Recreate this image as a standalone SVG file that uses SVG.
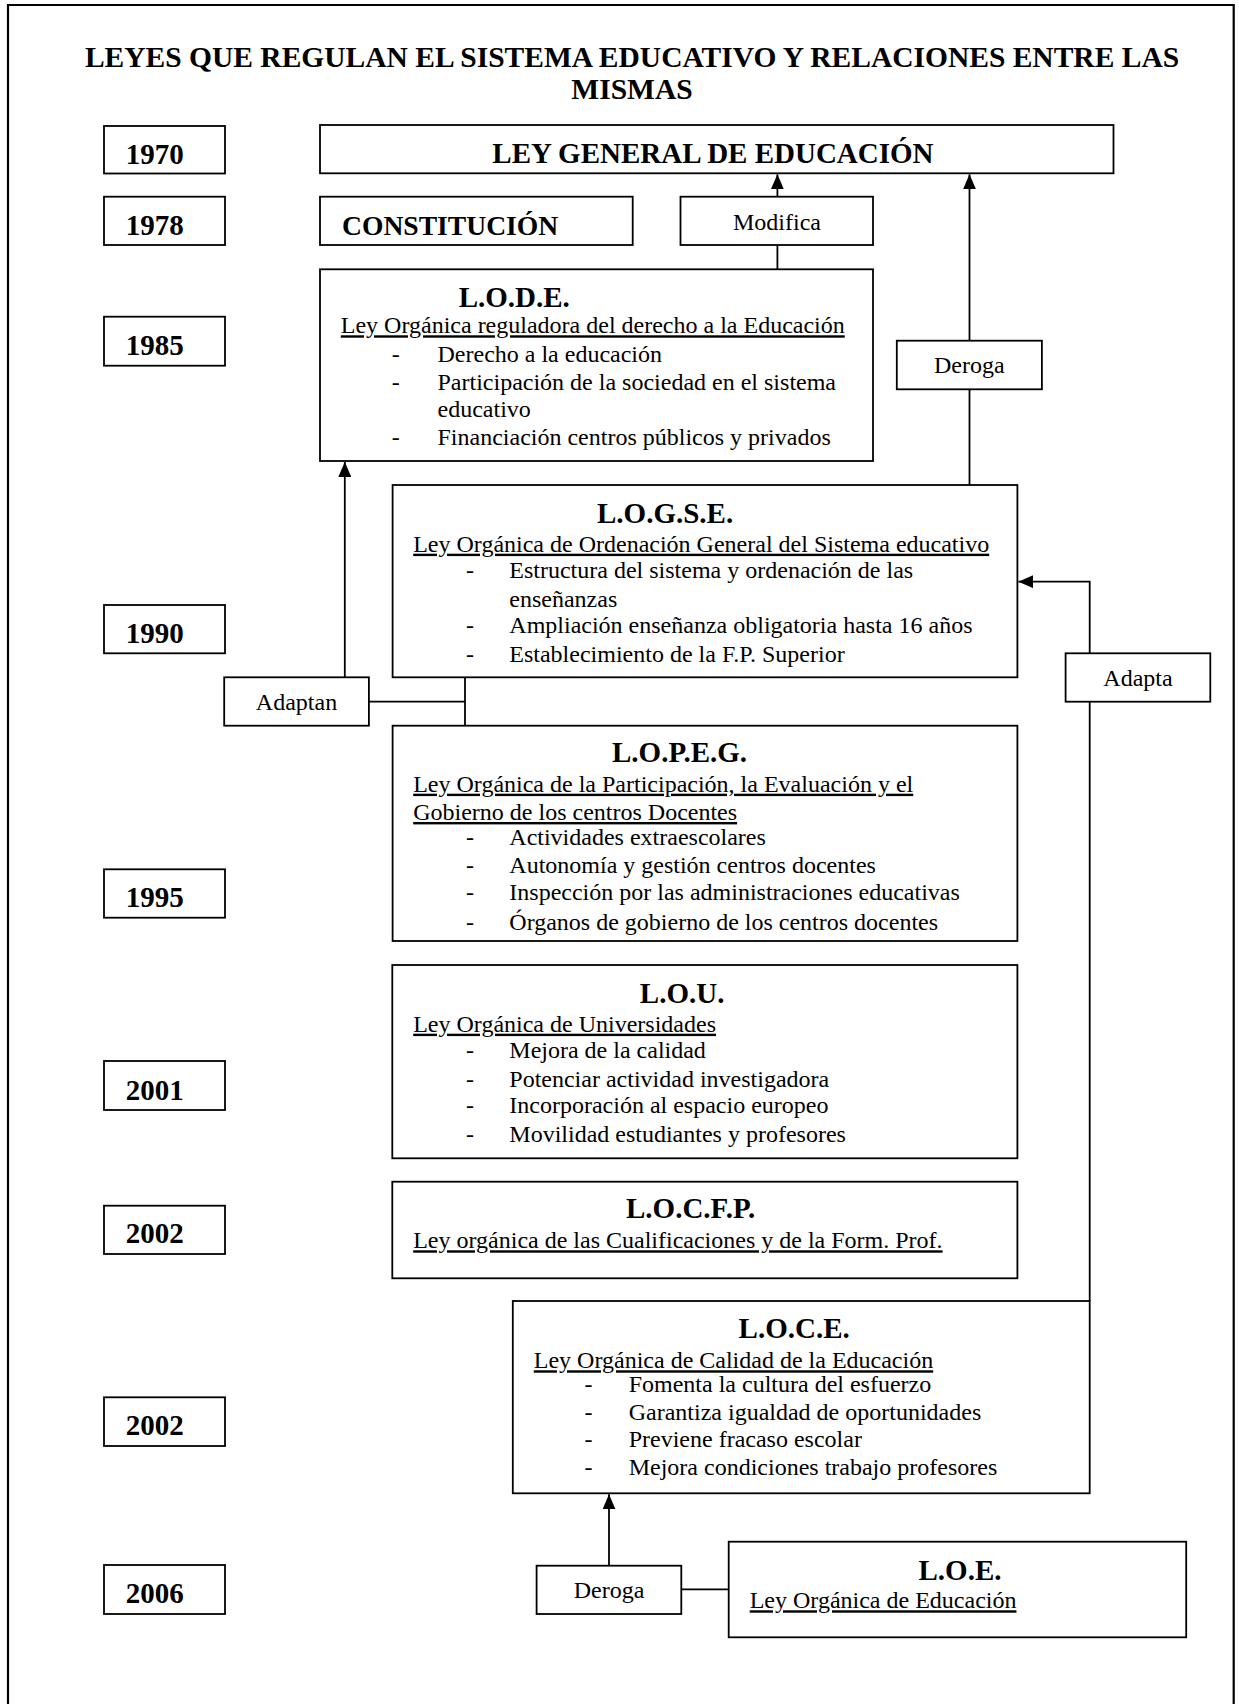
<svg xmlns="http://www.w3.org/2000/svg" width="1239" height="1704" viewBox="0 0 1239 1704">
<defs>
<marker id="arr" markerUnits="userSpaceOnUse" markerWidth="16" markerHeight="13" refX="15" refY="6.5" orient="auto">
<path d="M0,0 L15,6.5 L0,13 z" fill="#000"/>
</marker>
<clipPath id="clipLopeg"><rect x="392" y="725" width="626" height="214"/></clipPath>
<style>
.box{fill:#fff;stroke:#000;stroke-width:1.8}
.con{fill:none;stroke:#000;stroke-width:1.8}
.b{font-family:"Liberation Serif","Times New Roman",serif;font-weight:bold;font-size:29px;fill:#000}
.r{font-family:"Liberation Serif","Times New Roman",serif;font-size:24px;fill:#000}
.u{text-decoration:underline}
.m{text-anchor:middle}
</style>
</defs>
<rect width="1239" height="1704" fill="#fff"/>
<path d="M8,1710 V5 H1233.7 V1710" fill="none" stroke="#000" stroke-width="2.2"/>

<g id="title">
<text class="b m" x="632" y="67" style="font-size:29.5px">LEYES QUE REGULAN EL SISTEMA EDUCATIVO Y RELACIONES ENTRE LAS</text>
<text class="b m" x="632" y="99" style="font-size:29.5px">MISMAS</text>
</g>

<g id="y1970"><rect class="box" x="104" y="126" width="121" height="47.5"/><text class="b" x="125.7" y="163.5">1970</text></g>
<g id="y1978"><rect class="box" x="104" y="196.7" width="121" height="48.3"/><text class="b" x="125.7" y="234.5">1978</text></g>
<g id="y1985"><rect class="box" x="104" y="316.7" width="121" height="49"/><text class="b" x="125.7" y="355">1985</text></g>
<g id="y1990"><rect class="box" x="104" y="605" width="121" height="48.3"/><text class="b" x="125.7" y="643">1990</text></g>
<g id="y1995"><rect class="box" x="104" y="869.3" width="121" height="48.4"/><text class="b" x="125.7" y="907">1995</text></g>
<g id="y2001"><rect class="box" x="104" y="1061" width="121" height="49"/><text class="b" x="125.7" y="1099.5">2001</text></g>
<g id="y2002a"><rect class="box" x="104" y="1205.7" width="121" height="48.3"/><text class="b" x="125.7" y="1243">2002</text></g>
<g id="y2002b"><rect class="box" x="104" y="1397.3" width="121" height="48.7"/><text class="b" x="125.7" y="1435">2002</text></g>
<g id="y2006"><rect class="box" x="104" y="1565" width="121" height="49"/><text class="b" x="125.7" y="1603">2006</text></g>

<g id="connectors">
<line class="con" x1="777.4" y1="269.3" x2="777.4" y2="245"/>
<line class="con" x1="777.4" y1="196.7" x2="777.4" y2="174.3" marker-end="url(#arr)"/>
<line class="con" x1="969.5" y1="485" x2="969.5" y2="389.3"/>
<line class="con" x1="969.5" y1="340.7" x2="969.5" y2="174.3" marker-end="url(#arr)"/>
<line class="con" x1="465" y1="677.3" x2="465" y2="725.7"/>
<line class="con" x1="465" y1="701.7" x2="368.9" y2="701.7"/>
<line class="con" x1="344.8" y1="677.3" x2="344.8" y2="462" marker-end="url(#arr)"/>
<line class="con" x1="1089.7" y1="1301" x2="1089.7" y2="701.7"/>
<polyline class="con" points="1089.7,653.3 1089.7,581.7 1018.4,581.7" marker-end="url(#arr)"/>
<line class="con" x1="728.7" y1="1589.3" x2="681.3" y2="1589.3"/>
<line class="con" x1="609" y1="1565.7" x2="609" y2="1494.3" marker-end="url(#arr)"/>
</g>

<g id="lge"><rect class="box" x="320" y="125" width="793.5" height="48.3"/><text class="b" x="492.3" y="163.3">LEY GENERAL DE EDUCACIÓN</text></g>
<g id="constitucion"><rect class="box" x="320" y="196.7" width="312.7" height="48.3"/><text class="b" x="342" y="235" style="font-size:27.6px">CONSTITUCIÓN</text></g>
<g id="modifica"><rect class="box" x="680.5" y="196.7" width="192.5" height="48.3"/><text class="r m" x="777" y="230">Modifica</text></g>
<g id="deroga1"><rect class="box" x="896.8" y="340.7" width="145.1" height="48.6"/><text class="r m" x="969.3" y="373.3">Deroga</text></g>
<g id="adaptan"><rect class="box" x="224.2" y="677.3" width="144.7" height="48.4"/><text class="r m" x="296.5" y="709.5">Adaptan</text></g>
<g id="adapta"><rect class="box" x="1065.6" y="653.3" width="144.7" height="48.4"/><text class="r m" x="1138" y="685.5">Adapta</text></g>
<g id="deroga2"><rect class="box" x="536.6" y="1565.7" width="144.7" height="48.3"/><text class="r m" x="609" y="1598.3">Deroga</text></g>

<g id="lode">
<rect class="box" x="320" y="269.3" width="553" height="191.7"/>
<text class="b" x="458.7" y="306.7">L.O.D.E.</text>
<text class="r u" x="340.8" y="333.3">Ley Orgánica reguladora del derecho a la Educación</text>
<text class="r" x="391.7" y="361.7">-</text><text class="r" x="437.5" y="361.7">Derecho a la educación</text>
<text class="r" x="391.7" y="390">-</text><text class="r" x="437.5" y="390">Participación de la sociedad en el sistema</text>
<text class="r" x="437.5" y="416.7">educativo</text>
<text class="r" x="391.7" y="445">-</text><text class="r" x="437.5" y="445">Financiación centros públicos y privados</text>
</g>

<g id="logse">
<rect class="box" x="392.6" y="485" width="624.8" height="192.3"/>
<text class="b" x="597" y="523.3">L.O.G.S.E.</text>
<text class="r u" x="413.2" y="551.7">Ley Orgánica de Ordenación General del Sistema educativo</text>
<text class="r" x="466" y="578.3">-</text><text class="r" x="509.3" y="578.3">Estructura del sistema y ordenación de las</text>
<text class="r" x="509.3" y="606.7">enseñanzas</text>
<text class="r" x="466" y="633.3">-</text><text class="r" x="509.3" y="633.3">Ampliación enseñanza obligatoria hasta 16 años</text>
<text class="r" x="466" y="661.7">-</text><text class="r" x="509.3" y="661.7">Establecimiento de la F.P. Superior</text>
</g>

<g id="lopeg">
<rect class="box" x="392.6" y="725.7" width="624.8" height="215.3"/>
<text class="b" x="612" y="761.7">L.O.P.E.G.</text>
<text class="r u" x="413.2" y="791.7">Ley Orgánica de la Participación, la Evaluación y el</text>
<text class="r u" x="413.2" y="820">Gobierno de los centros Docentes</text>
<text class="r" x="466" y="845">-</text><text class="r" x="509.3" y="845">Actividades extraescolares</text>
<text class="r" x="466" y="873.3">-</text><text class="r" x="509.3" y="873.3">Autonomía y gestión centros docentes</text>
<text class="r" x="466" y="900">-</text><text class="r" x="509.3" y="900">Inspección por las administraciones educativas</text>
<g clip-path="url(#clipLopeg)"><text class="r" x="466" y="930">-</text><text class="r" x="509.3" y="930">Órganos de gobierno de los centros docentes</text></g>
</g>

<g id="lou">
<rect class="box" x="392.3" y="965" width="625.1" height="193.3"/>
<text class="b" x="639.8" y="1003.3">L.O.U.</text>
<text class="r u" x="413.2" y="1031.7">Ley Orgánica de Universidades</text>
<text class="r" x="466" y="1058.3">-</text><text class="r" x="509.3" y="1058.3">Mejora de la calidad</text>
<text class="r" x="466" y="1086.7">-</text><text class="r" x="509.3" y="1086.7">Potenciar actividad investigadora</text>
<text class="r" x="466" y="1113.3">-</text><text class="r" x="509.3" y="1113.3">Incorporación al espacio europeo</text>
<text class="r" x="466" y="1141.7">-</text><text class="r" x="509.3" y="1141.7">Movilidad estudiantes y profesores</text>
</g>

<g id="locfp">
<rect class="box" x="392.3" y="1181.7" width="625.1" height="96.6"/>
<text class="b" x="626" y="1218.3">L.O.C.F.P.</text>
<text class="r u" x="413.2" y="1248.3">Ley orgánica de las Cualificaciones y de la Form. Prof.</text>
</g>

<g id="loce">
<rect class="box" x="512.8" y="1301" width="576.9" height="192.3"/>
<text class="b" x="738.6" y="1338.3">L.O.C.E.</text>
<text class="r u" x="533.8" y="1368.3">Ley Orgánica de Calidad de la Educación</text>
<text class="r" x="584.4" y="1391.7">-</text><text class="r" x="628.7" y="1391.7">Fomenta la cultura del esfuerzo</text>
<text class="r" x="584.4" y="1420">-</text><text class="r" x="628.7" y="1420">Garantiza igualdad de oportunidades</text>
<text class="r" x="584.4" y="1447.3">-</text><text class="r" x="628.7" y="1447.3">Previene fracaso escolar</text>
<text class="r" x="584.4" y="1475">-</text><text class="r" x="628.7" y="1475">Mejora condiciones trabajo profesores</text>
</g>

<g id="loe">
<rect class="box" x="728.7" y="1541.7" width="457.5" height="95.6"/>
<text class="b" x="918.5" y="1580">L.O.E.</text>
<text class="r u" x="749.7" y="1608.3">Ley Orgánica de Educación</text>
</g>
</svg>
